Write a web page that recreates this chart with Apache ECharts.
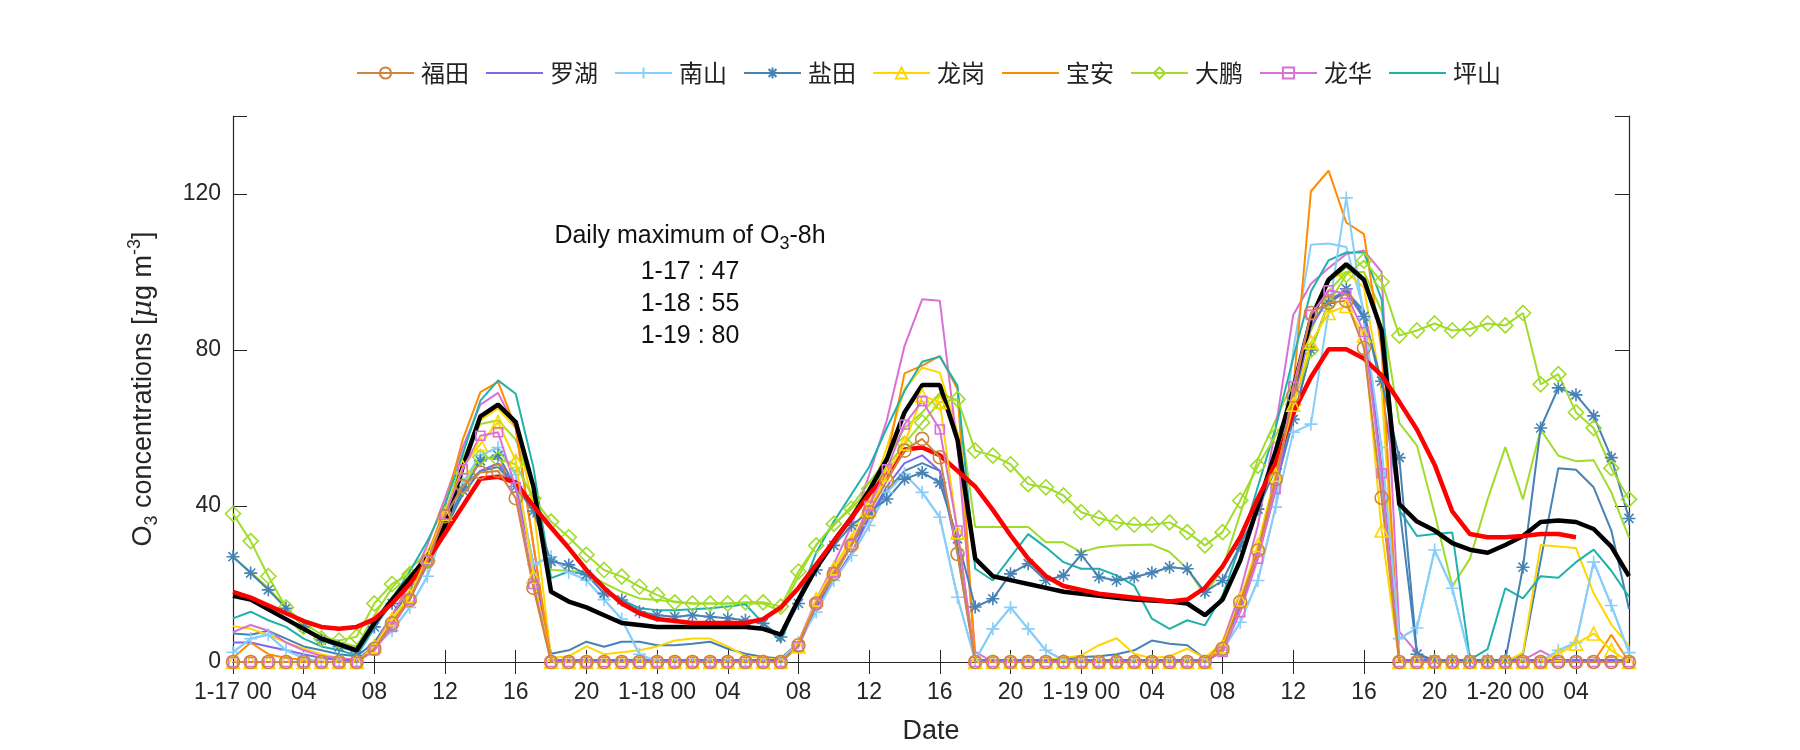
<!DOCTYPE html>
<html><head><meta charset="utf-8">
<script src="https://cdn.jsdelivr.net/npm/echarts@6/dist/echarts.min.js"></script>
<style>html,body{margin:0;padding:0;background:#fff}#c{width:1800px;height:750px}</style>
</head><body><div id="c"></div>
<script>
// hours from 1-17 00 to 1-20 07
const hours = Array.from({length: 80}, (_, i) => String(i));
const tickLabels = ['1-17 00','04','08','12','16','20','1-18 00','04','08','12','16','20','1-19 00','04','08','12','16','20','1-20 00','04'];
const legendNames = ['福田','罗湖','南山','盐田','龙岗','宝安','大鹏','龙华','坪山'];
const annotation = ['1-17 : 47','1-18 : 55','1-19 : 80'];

const futian = [0,0,0,0,0,0,0,0, 3.4,9.9,15.9,25.8,37.4,45.1,48.6,49,42,19, 0,0,0,0,0,0,0,0,0,0,0,0,0,0,
  4.3,15,22.6,29.9,38.4,46.5,54.2,57.2,52.5,27.7, 0,0,0,0,0,0,0,0,0,0,0,0,0,0,
  3.4,15.4,28.6,46.9,68.3,89.5,92.1,92.6,80.5,42.1, 0,0,0,0,0,0,0,0,0,0,0,0,0,0];
const luohu = [5,5,4,3,2,1,0.5,0.5, 4,10,16,25,36,45,49,51,45,25, 0.5,0.5,0.5,0.5,0.5,0.5,0.5,0.5,0.5,0.5,0.5,0.5,0.5,0.5,
  4,14,21,28,37,45,51,53,49,28, 0.5,0.5,0.5,0.5,0.5,0.5,0.5,0.5,0.5,0.5,0.5,0.5,0.5,0.5,
  4,14,27,44,66,86,93,95,88,50, 0.5,0.5,0.5,0.5,0.5,0.5,0.5,0.5,0.5,0.5,0.5,0.5,0.5,0.5];
const nanshan = [2.5,6,7,3,1,0,0,0, 4,8,14,22,35,46,53,55,48,25, 27,23,21,16,11,2,0,0,0,0,0,0,0,0,
  5,12.8,20.9,27.3,35,43.5,48.2,43.5,37.1,16.6, 0.4,8.5,14,8.5,3,0.4,0,0,0,0,0,0,0,0,
  3,10.2,20.9,39.7,58.9,61,90,119,88,55, 6,8.7,28.7,18.9,0.6,0,0,0,0,3,5,25.6,14.5,2.4];
const nanshan2 = [2.5,6,7,3,1,0,0,0, 4,8,14,22,35,46,53,55,48,25, 27,23,21,16,11,2,0,0,0,0,0,0,0,0,
  5,12.8,20.9,27.3,35,43.5,48.2,43.5,37.1,16.6, 0.4,8.5,14,8.5,3,0.4,0,0,0,0,0,0,0,0,
  3,10.2,20.9,39.7,80,107,107.3,106.4,90,45, 6,8.7,28.7,18.9,0.6,0,0,0,0,3,5,25.6,14.5,2.4];
const yantian = [27,22.8,18.5,13.8,9,5.6,3.9,2.6, 9,15,20,26,35,44,51.6,53,45,38.7,
  25.8,24.9,22.4,17.6,15.9,12.9,12,11.6,12,11.6,11.2,10.7,9.9,6.4,
  15,23.6,29.9,35,38.5,41.8,46.9,48.6,46,31.6,
  14.1,16.2,22.6,25.2,20.9,22.2,27.5,21.8,20.9,21.8,22.9,24.3,23.9,17.9,
  20.9,29.9,39.2,49.5,62.2,80,92,95.7,88.6,72,
  52.4,2,0.5,0.5,0.5,0.5,0.5,24.3,60,70.3,68.5,63.1,52.4,36.8];
const yantian2 = [7.3,7,8,6,4,3,2,1.5, 5,12,18,25,34,43,49,50,45,25,
  2.1,3,5.2,3.9,5.2,5.2,4.3,4.3,4.7,5.2,3.4,2.1,1.3,0.9,
  5,14,22,30,37,44,49,51,49,30,
  0.4,0.4,0.4,0.5,0.6,0.8,1.3,1.5,2,3,5.5,4.7,4.3,0.9,
  5,15,28,45,62,80,92,95,90,70,
  40,2,0,0,0,0,0,2,26,49.7,49.3,44.8,33.7,13.6];
const longgang = [0,0,0,0,0,0,0,0, 4,11,17,27,38,50,55.9,61.5,51.6,21.9, 0,0,0,0,0,0,0,0,0,0,0,0,0,0,
  4,16,24,31,39,48,56,68.3,66.6,33.3, 0,0,0,0,0,0,0,0,0,0,0,0,0,0,
  4,16,30,48,66,82,89.5,91.3,83.7,33.7, 0,0,0,0,0,0,0,0,0,2,4.7,7.3,3,0];
const longgang2 = [9.2,8.5,7,5,3.5,2,1,0.5, 4,12,20,28,38,52,62,65,60,40,
  1,1.5,4,2,2.5,3,4,5.5,6,6,4,1.5,1,0.5,
  5,15,24,32,42,55,70,75.5,74.2,58.9,
  0.4,0,0,0,0.5,1,1.7,4.3,6.1,2.1,1,1.5,3.4,1,
  5,16,30,48,68,88,98,100,96,70,
  0,0,0,0,0,0,0,2.4,30,29.6,29.2,17.6,9.6,4.2];
const baoan = [1,5,2,1,0.5,0,0,0, 3,10,17,27,40,57,69.2,71.8,60,30, 0,0,0,0,0,0,0,0,0,0,0,0,0,0,
  5,15,22,30,40,52,74,76,78.5,70, 0,0,0,0,0,0,0,0,0,0,0,0,0,0,
  5,15,28,45,70,120.7,126,112.7,109.7,80, 0,0,0,0,0,0,0,0,0,0,0,0,7,0];
const dapeng = [38,31,22,14,9,6,5.5,6.5, 15,20,22.5,26,37,45,52.5,52,50.7,42,
  36,32,27.5,23.6,21.9,19.3,17.2,15.3,15,15,15,15.3,15.3,14.2,
  23.2,29.9,35.4,39.3,44.4,50,56,61.4,66.6,67.4,
  54.2,52.9,50.7,45.6,44.8,42.7,38.4,36.9,35.8,35.2,35.2,35.8,33.3,29.9,
  33.3,41.4,50.3,58,66,80,92,99.3,102.9,97.5,
  83.7,85,86.8,85,85.4,86.8,86.3,89.5,71.2,73.8,64,60,49.7,41.7];
const dapeng2 = [27,23,19,14,10,7,5,4, 12,19,24,28,38,52,61,62,57,45,
  23.6,23.4,22.8,20.2,18,16.3,15.9,15.5,15,15,15,15,15,13,
  22,30,35,40,46,52,60,64,69,67,
  34.6,34.6,34.6,34.6,30.7,30.7,28.2,29.4,29.9,30,30.1,28.2,23.9,17.1,
  24,38,52,62,72,85,95,100,100,90,
  61.3,55.5,38.1,19.4,26.5,41.7,55.1,41.7,59.6,52.9,51.5,51.7,43.5,31.9];
const longhua = [0,0,0,0,0,0,0,0, 3,9,16,26,37.8,49.4,58,58.9,44.7,20, 0,0,0,0,0,0,0,0,0,0,0,0,0,0,
  4,15,23,30,40,49.4,60.9,66.9,59.6,33.7, 0,0,0,0,0,0,0,0,0,0,0,0,0,0,
  2.6,12.8,26.5,44.4,70.7,89,95.3,94.4,84.6,48.4, 0,0,0,0,0,0,0,0,0,0,0,0,0,0];
const longhua2 = [7.7,9.5,8,5,3,1.5,1,0.5, 4,12,20,30,42,55,66,69,60,30, 0,0,0,0,0,0,0,0,0,0,0,0,0,0,
  5,16,25,35,48,62,81,93,92.6,55, 2.6,0,0,0,0,0,0,0,0,0,0,0,0,0,
  5,18,35,60,89,97,101,104.6,105.5,100, 7.8,2.4,0,0,0,0,0,0.5,2.9,0.5,0,0,0,0];
const pingshan = [11.2,12.9,10.7,9,6,4,3,1.7, 8.6,16.3,23.2,31,40.4,53.3,67,72.2,68.8,49.9,
  21.5,23.2,22.4,18.9,15.9,13.8,13.3,13.3,13.5,13.8,14.2,14.8,9.9,5.2,
  16.3,28,36,43,50,60,69.5,77,78.3,70.8,
  23.9,20.9,26.9,32.8,29.4,25.6,23.9,23.9,22.2,19.6,11.1,8.5,10.7,9.4,
  17.1,30,45,60,78,95,103,105,105,93,
  39,32.3,32.8,33.2,0.6,3.3,18.9,16.3,22,21.6,25.6,28.8,23.4,16.7];
const meanObs = [17,16,13.5,11,8.5,6,4.5,3, 10,16,21.5,27,35,50,63,66,61.5,45,
  18,15.5,14,12,10,9.5,9,9,9,9,9,9,8.5,7,
  16,24,31,37,44,52,64,71,71,57,
  26.5,22,21,20,19,18,17.5,17,16.5,16,15.8,15.5,15,12,
  16,26,40,54,70,88,98,102,98,85,
  40.5,36,33.7,30.5,28.8,28,30,32.3,35.9,36.3,35.9,34.1,29.6,22];
const mean8h = [18,16.5,14.5,12.5,10.5,9,8.5,9, 11,15,20,26,33,40,47,47.5,46,40,
  34.5,29.2,23.6,19,15,12.5,11,10.5,10,10,10,10,11,14,
  19,25,31,37,43,48,54.5,55,53,49,
  45,39,32.5,26.5,22,19.5,18.5,17.5,17,16.5,16,15.5,16,19,
  24.5,32,42,51,64,73,80.2,80.2,77.8,73.5,
  66.7,59.6,50.6,38.6,32.8,32,32,32.3,32.8,32.8,32,null,null,null];

const C = {futian:'#CD853F', luohu:'#7B68EE', nanshan:'#87CEFA', yantian:'#4682B4', longgang:'#FFD700',
  baoan:'#FF8C00', dapeng:'#A0DC2A', longhua:'#DA70D6', pingshan:'#20B2AA'};
const PLUS = 'path://M0,5L10,5M5,0L5,10';
const STAR = 'path://M0,5L10,5M5,0L5,10M1.5,1.5L8.5,8.5M1.5,8.5L8.5,1.5';
const CLEAR = 'rgba(0,0,0,0)';

function ln(name, data, color, width, z) {
  return {name, type:'line', data, symbol:'none', showSymbol:false, z: z || 2,
    lineStyle:{color, width}, itemStyle:{color:CLEAR, borderColor:CLEAR, borderWidth:0}, silent:true};
}
function mk(name, data, color, symbol, size, z) {
  return {name, type:'line', data, symbol, symbolSize:size, showSymbol:true, showAllSymbol:true, z: z || 2,
    lineStyle:{color, width:2}, itemStyle:{color:CLEAR, borderColor:color, borderWidth:1.6}, silent:true};
}

const series = [
  ln('_n2', nanshan2, C.nanshan, 2),
  ln('_y2', yantian2, C.yantian, 2),
  ln('_l2', longgang2, C.longgang, 2),
  ln('_d2', dapeng2, C.dapeng, 2),
  ln('_h2', longhua2, C.longhua, 2),
  ln('罗湖', luohu, C.luohu, 2),
  ln('宝安', baoan, C.baoan, 2),
  ln('坪山', pingshan, C.pingshan, 2),
  mk('南山', nanshan, C.nanshan, PLUS, 13),
  mk('盐田', yantian, C.yantian, STAR, 13),
  mk('大鹏', dapeng, C.dapeng, 'diamond', 15),
  ln('_mean', meanObs, '#000000', 4.5, 3),
  ln('_m8h', mean8h, '#FF0000', 4.5, 3),
  mk('龙岗', longgang, C.longgang, 'triangle', 13, 4),
  mk('龙华', longhua, C.longhua, 'rect', 9, 4),
  mk('福田', futian, C.futian, 'circle', 13, 4)
];

const chart = echarts.init(document.getElementById('c'), null, {renderer:'canvas'});
const axisColor = '#262626';
const FONT = 'Liberation Sans, Arial, sans-serif';
chart.setOption({
  animation:false,
  backgroundColor:'#fff',
  textStyle:{fontFamily:FONT},
  legend:{data:legendNames, top:56, left:351, itemWidth:57, itemHeight:14, itemGap:16, selectedMode:false,
    textStyle:{fontSize:24, color:'#222', fontFamily:'Noto Sans CJK SC', padding:[0,0,0,2]}},
  grid:{left:233, right:171, top:116, bottom:87, containLabel:false},
  xAxis:[{type:'category', data:hours, boundaryGap:false,
    axisLine:{lineStyle:{color:axisColor, width:1.2}},
    axisTick:{inside:true, length:12, interval:3, lineStyle:{color:axisColor}},
    axisLabel:{interval:3, margin:19, fontSize:23, color:axisColor, fontFamily:FONT,
      formatter:(v, i) => tickLabels[Math.round(i/4)]},
    splitLine:{show:false},
    name:'Date', nameLocation:'middle', nameGap:56, nameTextStyle:{fontSize:27, color:axisColor, fontFamily:FONT}},
   {type:'category', data:hours, boundaryGap:false, position:'top',
    axisLine:{lineStyle:{color:axisColor, width:1.2}},
    axisTick:{inside:true, length:12, interval:3, lineStyle:{color:axisColor}},
    axisLabel:{show:false}, splitLine:{show:false}}],
  yAxis:[{type:'value', min:0, max:140, interval:40,
    axisLine:{show:true, lineStyle:{color:axisColor, width:1.2}},
    axisTick:{show:true, inside:true, length:14, lineStyle:{color:axisColor}},
    axisLabel:{fontSize:23, color:axisColor, margin:12, fontFamily:FONT,
      formatter:v => (v % 40 === 0 && v <= 120) ? String(v) : ''},
    splitLine:{show:false},
    name:'O{sub|3} concentrations [{it|μ}g m{sup|-3}]', nameLocation:'middle', nameGap:68,
    nameTextStyle:{fontSize:27, color:axisColor, fontFamily:FONT, lineHeight:42,
      rich:{sub:{fontSize:18, padding:[17,0,0,0], color:axisColor, fontFamily:FONT},
            sup:{fontSize:18, padding:[0,0,17,0], color:axisColor, fontFamily:FONT},
            it:{fontSize:27, fontStyle:'italic', color:axisColor, fontFamily:'DejaVu Serif'}}}},
   {type:'value', min:0, max:140, interval:40, position:'right',
    axisLine:{show:true, lineStyle:{color:axisColor, width:1.2}},
    axisTick:{show:true, inside:true, length:14, lineStyle:{color:axisColor}},
    axisLabel:{show:false}, splitLine:{show:false}}],
  graphic:[
    {type:'text', x:690, y:236, style:{text:'Daily maximum of O{sub|3}-8h', align:'center', verticalAlign:'middle',
      font:'25px Liberation Sans', fill:'#111',
      rich:{sub:{fontSize:18, padding:[16,0,0,0], fill:'#111'}}}},
    {type:'text', x:690, y:272, style:{text:annotation[0], align:'center', verticalAlign:'middle', font:'25px Liberation Sans', fill:'#111'}},
    {type:'text', x:690, y:304, style:{text:annotation[1], align:'center', verticalAlign:'middle', font:'25px Liberation Sans', fill:'#111'}},
    {type:'text', x:690, y:336, style:{text:annotation[2], align:'center', verticalAlign:'middle', font:'25px Liberation Sans', fill:'#111'}}
  ],
  series
});
</script></body></html>
